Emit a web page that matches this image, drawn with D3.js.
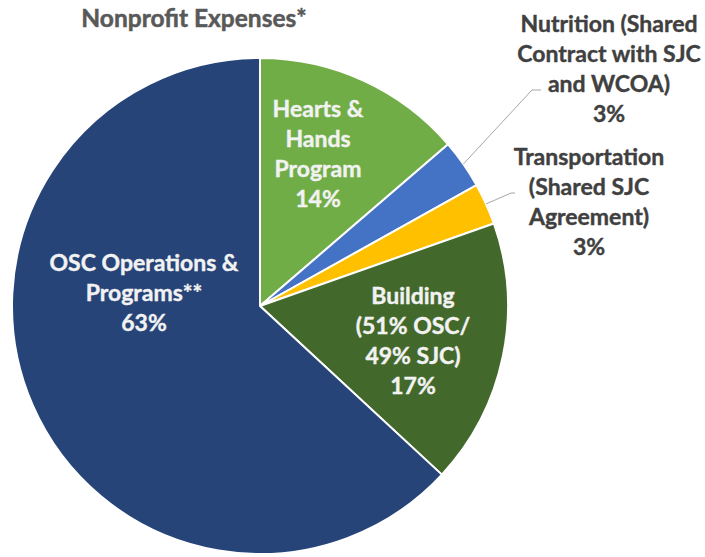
<!DOCTYPE html>
<html>
<head>
<meta charset="utf-8">
<script src="https://cdn.jsdelivr.net/npm/d3@7"></script>
<style>
  html, body { margin: 0; padding: 0; background: #ffffff; }
  svg { display: block; }
  text { font-family: Lato, "Open Sans", sans-serif; font-weight: bold; }
</style>
</head>
<body>
<svg id="chart" width="705" height="557"></svg>
<script>
const title = "Nonprofit Expenses*";
const categories = [
  "Hearts & Hands Program",
  "Nutrition (Shared Contract with SJC and WCOA)",
  "Transportation (Shared SJC Agreement)",
  "Building (51% OSC/ 49% SJC)",
  "OSC Operations & Programs**"
];
const values = [13.7, 3.2, 2.7, 17.3, 63.1];
const percentLabels = ["14%", "3%", "3%", "17%", "63%"];
const labelLines = [
  ["Hearts &", "Hands", "Program"],
  ["Nutrition (Shared", "Contract with SJC", "and WCOA)"],
  ["Transportation", "(Shared SJC", "Agreement)"],
  ["Building", "(51% OSC/", "49% SJC)"],
  ["OSC Operations &", "Programs**"]
];
const colors = ["#70AD47", "#4472C4", "#FFC000", "#43682B", "#264478"];
const labelInside = [true, false, false, true, true];

const svg = d3.select("#chart");
const cx = 260, cy = 306, R = 248;

svg.append("text")
  .attr("x", 194).attr("y", 27)
  .attr("text-anchor", "middle")
  .attr("fill", "#595959")
  .attr("stroke", "#595959").attr("stroke-width", 0.5)
  .attr("font-size", 24.5)
  .text(title);

const data = categories.map((c, i) => ({ name: c, value: values[i], i }));
const pie = d3.pie().value(d => d.value).sort(null).startAngle(0).endAngle(2 * Math.PI);
const arcs = pie(data);
const arc = d3.arc().innerRadius(0).outerRadius(R);

const g = svg.append("g").attr("transform", `translate(${cx},${cy})`);
g.selectAll("path.slice")
  .data(arcs)
  .join("path")
  .attr("class", "slice")
  .attr("d", arc)
  .attr("fill", d => colors[d.data.i])
  .attr("stroke", "#ffffff")
  .attr("stroke-width", 2)
  .attr("stroke-linejoin", "round");

const labelPos = [[318, 154], [609, 69], [589, 202], [413, 341], [144, 293]];
const lineH = 30;

arcs.forEach((a) => {
  const i = a.data.i;
  const lines = labelLines[i].concat([percentLabels[i]]);
  const [x, y] = labelPos[i];
  const fill = labelInside[i] ? "#F2F2F2" : "#404040";
  const t = svg.append("text")
    .attr("text-anchor", "middle")
    .attr("fill", fill)
    .attr("stroke", fill).attr("stroke-width", 0.4)
    .attr("font-size", 23);
  const n = lines.length;
  lines.forEach((ln, j) => {
    t.append("tspan")
      .attr("x", x)
      .attr("y", y + (j - (n - 1) / 2) * lineH + 8)
      .text(ln);
  });
});

// leader lines for outside labels
function edgePoint(a, frac) {
  const ang = a.startAngle + (a.endAngle - a.startAngle) * frac;
  return [cx + R * Math.sin(ang), cy - R * Math.cos(ang)];
}
const p1 = edgePoint(arcs[1], 0.5);
svg.append("polyline")
  .attr("points", [p1, [532, 90], [541, 90]].map(p => p.join(",")).join(" "))
  .attr("fill", "none").attr("stroke", "#A6A6A6").attr("stroke-width", 1);
const p2 = edgePoint(arcs[2], 0.5);
svg.append("polyline")
  .attr("points", [p2, [511, 193], [515, 193]].map(p => p.join(",")).join(" "))
  .attr("fill", "none").attr("stroke", "#A6A6A6").attr("stroke-width", 1);
</script>
</body>
</html>
